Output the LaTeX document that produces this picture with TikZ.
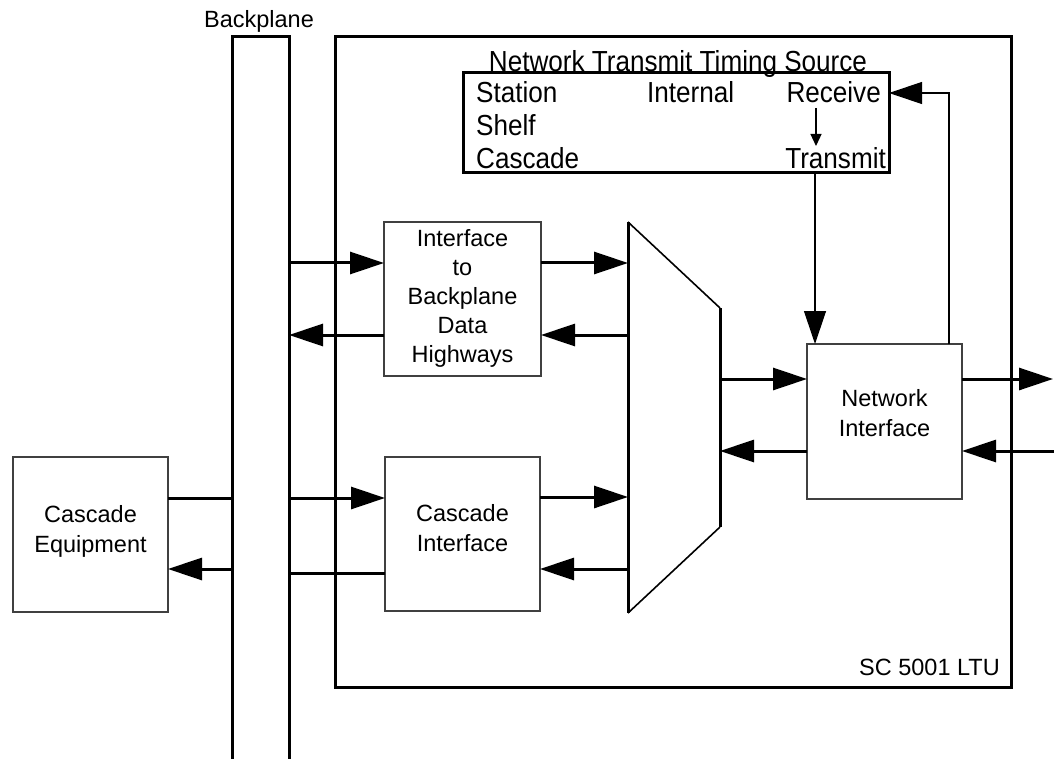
\documentclass[tikz,border=0pt]{standalone}
\usepackage{fontspec}
\setmainfont{Liberation Sans}
\newfontfamily\panelfont[FakeStretch=0.9]{Liberation Sans}
\usetikzlibrary{arrows.meta}

\tikzset{
  heavy/.style={line width=3pt, line join=miter},
  bigarrow/.style={line width=3pt, -{Triangle[length=34pt,width=22pt]}},
  thinarrow/.style={line width=1.2pt, -{Triangle[length=33pt,width=22pt]}},
  smallarrow/.style={line width=1.2pt, -{Triangle[length=12pt,width=11pt]}},
  unitbox/.style={draw=black!75, line width=1.4pt, inner sep=0pt, outer sep=0pt},
  boxtext/.style={inner sep=0pt, outer sep=0pt, align=center,
    font=\fontsize{23.5}{29.2}\selectfont},
  bigtext/.style={inner sep=0pt, font=\panelfont\fontsize{29}{33}\selectfont},
  midtext/.style={inner sep=0pt, font=\fontsize{23.5}{28}\selectfont}
}

\begin{document}
\begin{tikzpicture}[x=1pt, y=-1pt]
\useasboundingbox (0,0) rectangle (1054,759);

% backplane bus
\draw[heavy] (232,759) -- (232,37) -- (289,37) -- (289,759);
\node[midtext, anchor=base] (bplabel) at (259,28) {Backplane};

% LTU outline
\draw[heavy] (335,37) rectangle (1011,687);
\node[midtext, anchor=base east] (ltulabel) at (1000,675) {SC 5001 LTU};

% network transmit timing source panel
\draw[heavy] (463,73) rectangle (889,173);
\node[bigtext, anchor=base] (tstitle) at (678,72) {Network Transmit Timing Source};
\node[bigtext, anchor=base west] (station) at (476,102.5) {Station};
\node[bigtext, anchor=base west] (shelf) at (476,136) {Shelf};
\node[bigtext, anchor=base west] (cascade) at (476,169) {Cascade};
\node[bigtext, anchor=base west] (internal) at (647,102.5) {Internal};
\node[bigtext, anchor=base east] (receive) at (881,102.5) {Receive};
\node[bigtext, anchor=base east] (transmit) at (886,169) {Transmit};
\coordinate (rxlow) at (816,108);
\coordinate (txhigh) at (816,146);
\draw[smallarrow] (rxlow) -- (txhigh);

% functional blocks
\node[unitbox, minimum width=155pt, minimum height=155pt] (ceq) at (90.5,534.5) {};
\node[boxtext] (ceqtext) at (90.5,531.5) {Cascade\\Equipment};
\node[unitbox, minimum width=157pt, minimum height=154pt] (ibdh) at (462.5,299) {};
\node[boxtext] (ibdhtext) at (462.5,298.5) {Interface\\to\\Backplane\\Data\\Highways};
\node[unitbox, minimum width=155pt, minimum height=154pt] (ci) at (462.5,534) {};
\node[boxtext] (citext) at (462.5,528) {Cascade\\Interface};
\node[unitbox, minimum width=155pt, minimum height=155pt] (ni) at (884.5,421.5) {};
\node[boxtext] (nitext) at (884.5,413) {Network\\Interface};

% multiplexer
\coordinate (mtl) at (628,222);
\coordinate (mbl) at (628,613);
\coordinate (mtr) at (720,308);
\coordinate (mbr) at (720,527);
\draw[heavy] (mtl) -- (mbl);
\draw[heavy] (mtr) -- (mbr);
\draw[line width=1.6pt] (mtl) -- (mtr);
\draw[line width=1.6pt] (mbl) -- (mbr);

% attachment points on the bus and multiplexer
\coordinate (bp1) at (289,263);
\coordinate (bp2) at (289,335);
\coordinate (bp3) at (289,498);
\coordinate (bp4) at (289,573);
\coordinate (bl1) at (233,498);
\coordinate (bl2) at (233,569);
\coordinate (mx1) at (628,263);
\coordinate (mx2) at (628,335);
\coordinate (mx3) at (628,497);
\coordinate (mx4) at (628,569);
\coordinate (mr1) at (720,379);
\coordinate (mr2) at (720,451);
\coordinate (out1) at (1053,379);
\coordinate (in1) at (1054,451);

% data highway paths
\draw[bigarrow] (bp1) -- (ibdh.west |- bp1);
\draw[bigarrow] (ibdh.east |- mx1) -- (mx1);
\draw[bigarrow] (mx2) -- (ibdh.east |- mx2);
\draw[bigarrow] (ibdh.west |- bp2) -- (bp2);

% cascade paths
\draw[heavy] (ceq.east |- bl1) -- (bl1);
\draw[bigarrow] (bl2) -- (ceq.east |- bl2);
\draw[bigarrow] (bp3) -- (ci.west |- bp3);
\draw[heavy] (ci.west |- bp4) -- (bp4);
\draw[bigarrow] (ci.east |- mx3) -- (mx3);
\draw[bigarrow] (mx4) -- (ci.east |- mx4);

% network side
\draw[bigarrow] (mr1) -- (ni.west |- mr1);
\draw[bigarrow] (ni.west |- mr2) -- (mr2);
\draw[bigarrow] (ni.east |- out1) -- (out1);
\draw[bigarrow] (in1) -- (ni.east |- in1);

% timing connections
\coordinate (txout) at (815,173);
\coordinate (rxin) at (889,93);
\draw[thinarrow] (txout) -- (ni.north -| txout);
\draw[thinarrow] (ni.north -| 949,0) -- (949,93) -- (rxin);
\end{tikzpicture}
\end{document}
